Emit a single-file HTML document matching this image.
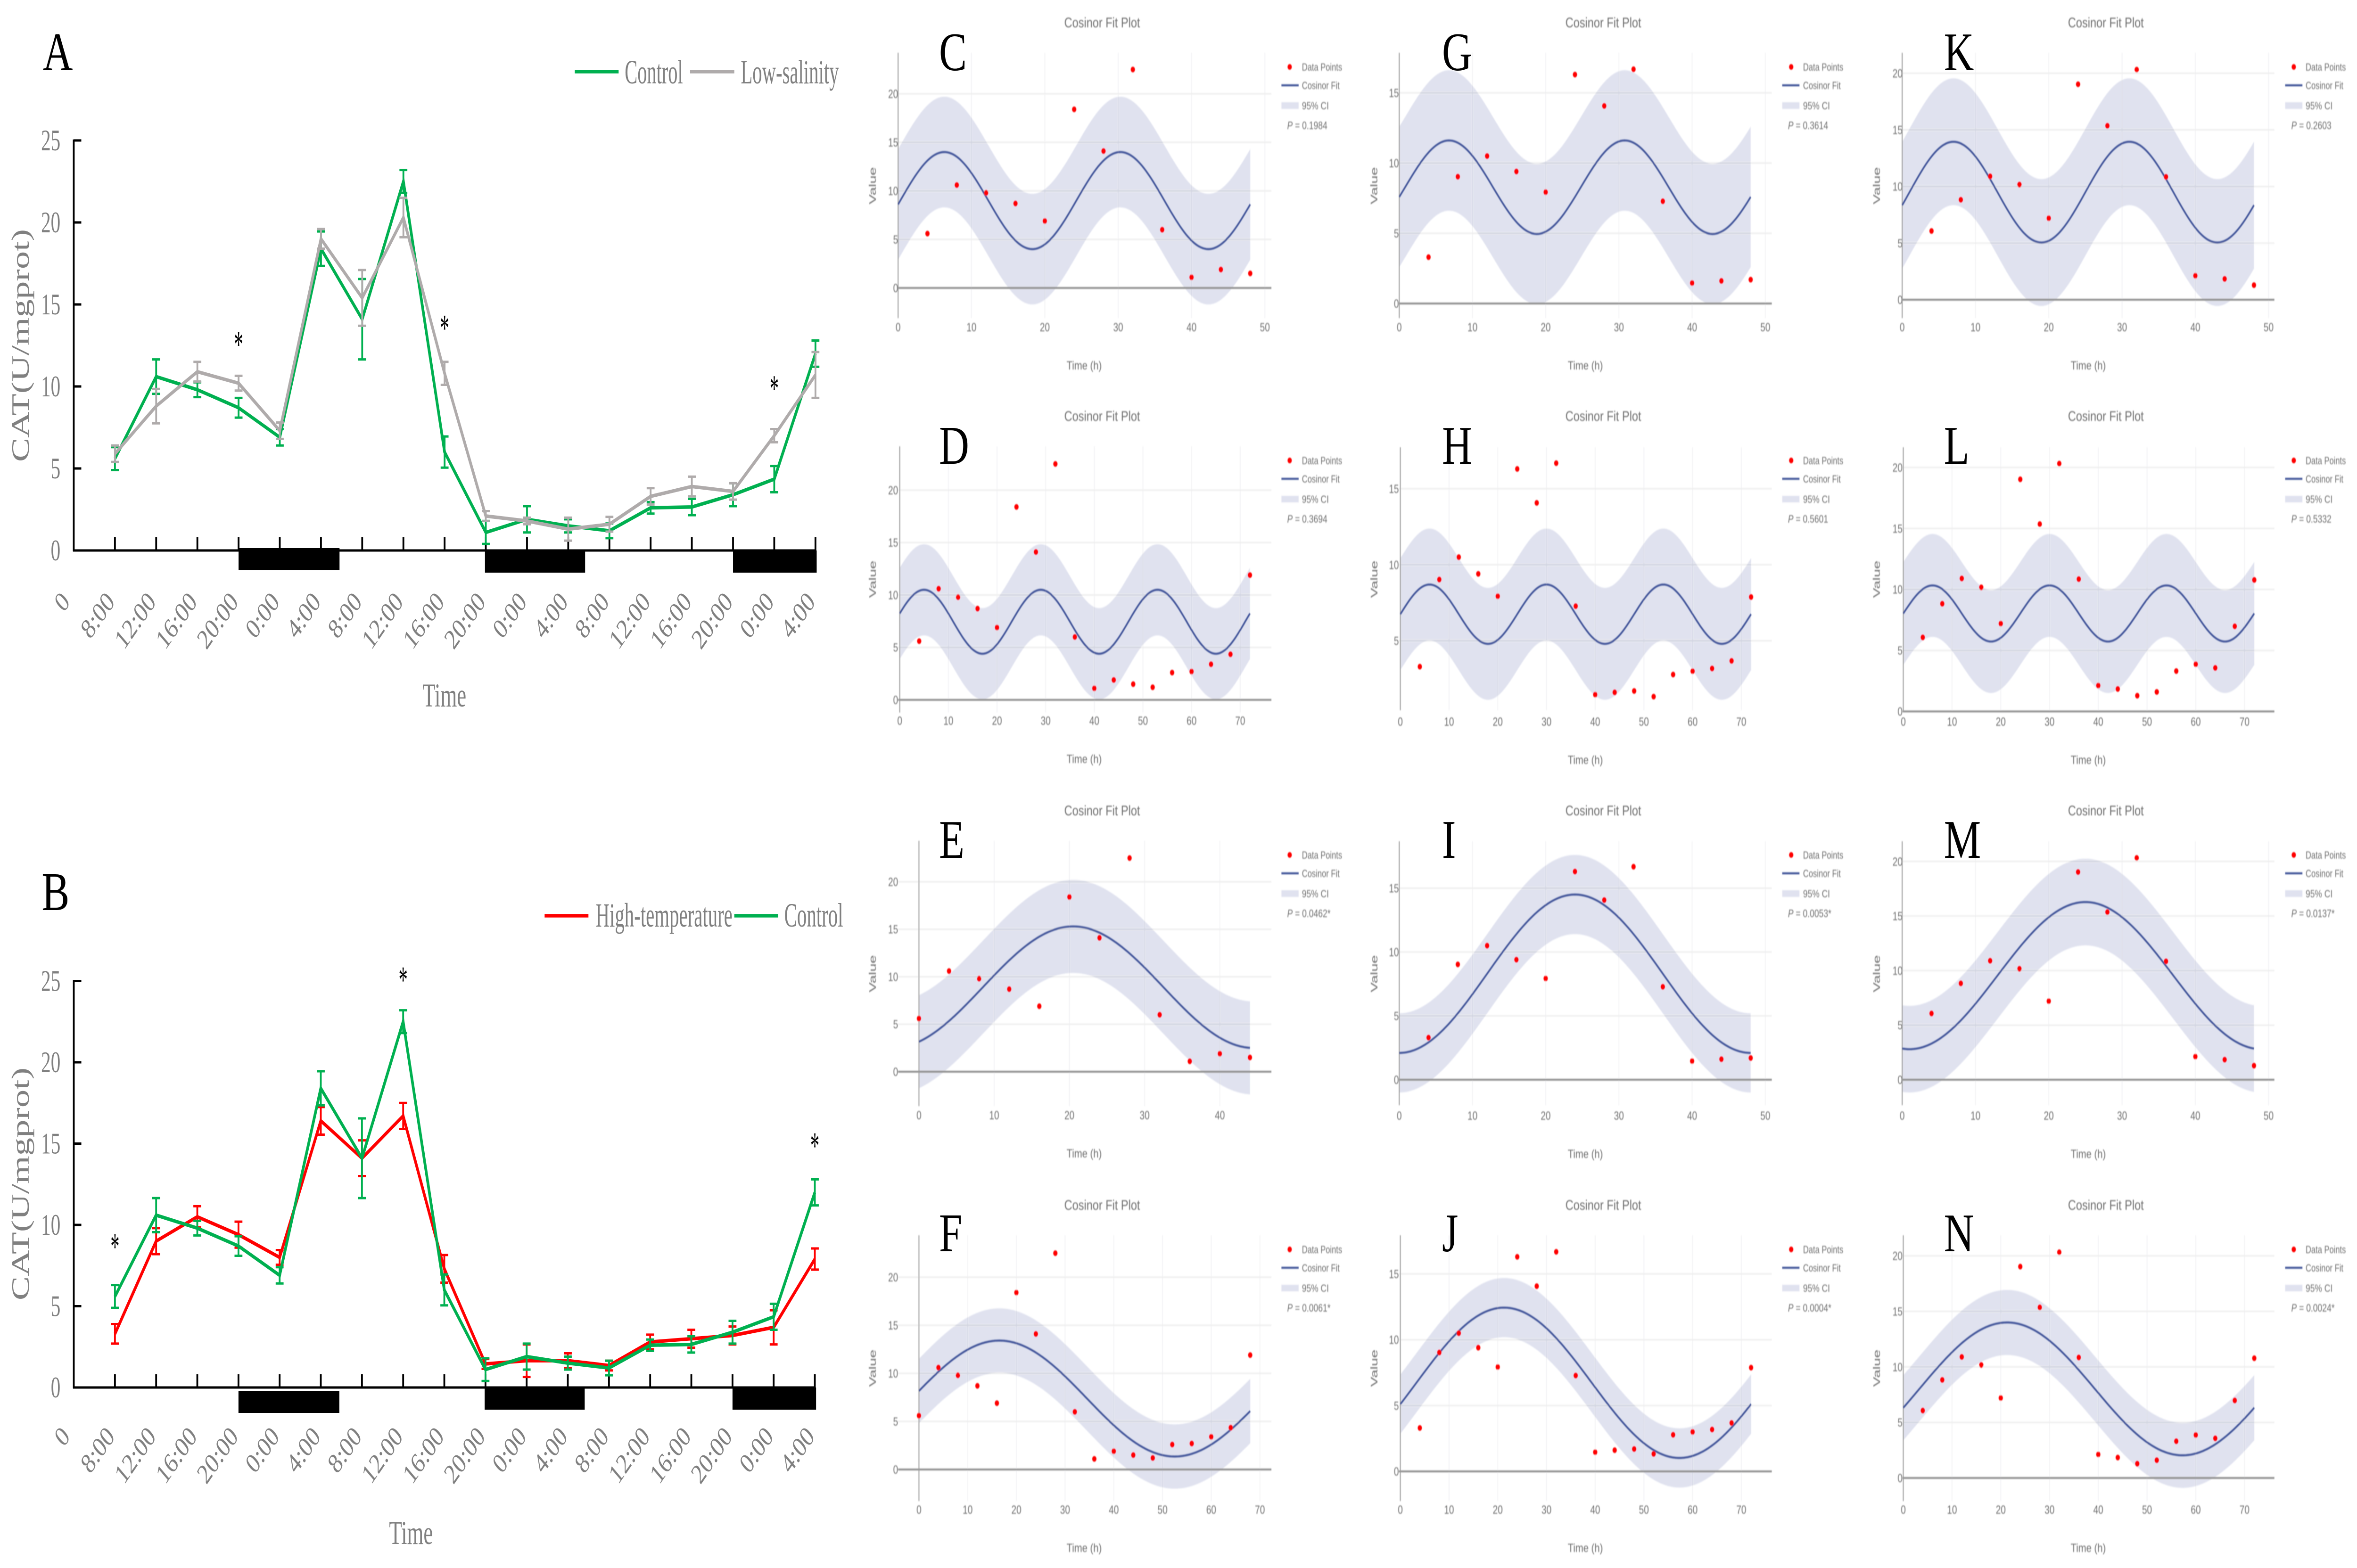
<!DOCTYPE html>
<html lang="en">
<head>
<meta charset="utf-8">
<title>CAT activity time series and cosinor fit plots</title>
<style>
html,body{margin:0;padding:0;background:#fff;width:100%;height:100%;overflow:hidden;}
svg{display:block;position:fixed;left:0;top:0;width:100vw;height:100vh;}
</style>
</head>
<body>
<svg id="figure" xmlns="http://www.w3.org/2000/svg" viewBox="0 0 6561 3327" preserveAspectRatio="none">
<defs>
<filter id="soft" x="-3%" y="-3%" width="106%" height="106%"><feGaussianBlur stdDeviation="1.2"/></filter>
</defs>
<rect x="0" y="0" width="6561" height="3327" fill="#ffffff"/>
<g id="lineA"></g>
<g id="lineB"></g>
<g id="cosinors"></g>
</svg>
<script>
// ---------- line chart data (panels A and B) ----------
const timeLabels = ["8:00","12:00","16:00","20:00","0:00","4:00","8:00","12:00","16:00","20:00","0:00","4:00","8:00","12:00","16:00","20:00","0:00","4:00"];
const catTicks = [0,5,10,15,20,25];
const controlValues = [5.6,10.6,9.8,8.7,6.9,18.4,14.1,22.5,6.0,1.1,1.9,1.5,1.2,2.6,2.65,3.4,4.35,12.0];
const controlErrors = [0.7,1.05,0.45,0.6,0.5,1.05,2.45,0.7,0.95,0.7,0.8,0.4,0.45,0.35,0.5,0.7,0.8,0.8];
const lowSalinityValues = [5.9,8.8,10.9,10.2,7.3,19.0,15.4,20.3,10.8,2.1,1.8,1.3,1.6,3.3,3.9,3.6,7.0,10.7];
const lowSalinityErrors = [0.5,1.05,0.6,0.45,0.5,0.6,1.7,1.2,0.7,0.3,0.2,0.7,0.45,0.5,0.6,0.5,0.4,1.4];
const highTempValues = [3.3,9.0,10.5,9.4,8.0,16.4,14.1,16.7,7.3,1.45,1.65,1.65,1.35,2.8,3.0,3.2,3.7,7.9];
const highTempErrors = [0.6,0.8,0.65,0.8,0.45,0.85,1.1,0.8,0.85,0.3,1.0,0.45,0.3,0.45,0.55,0.55,1.05,0.65];
const starIndexA = [3,8,16];
const starValueA = [12.9,13.9,10.2];
const starIndexB = [0,7,17];
const starValueB = [9.0,25.4,15.2];
const nightStart = [3,8.98,15];
const nightEnd = [5.45,11.41,17.03];

// ---------- cosinor data (panels C to N) ----------
const cosinorControl = [5.6,10.6,9.8,8.7,6.9,18.4,14.1,22.5,6.0,1.1,1.9,1.5,1.2,2.6,2.7,3.4,4.35,11.9];
const cosinorHeat = [3.3,9.03,10.5,9.4,7.93,16.3,14.07,16.68,7.28,1.46,1.61,1.7,1.33,2.78,3.0,3.18,3.68,7.88];
const cosinorSalinity = [6.07,8.83,10.9,10.17,7.2,19.03,15.36,20.32,10.85,2.12,1.84,1.29,1.6,3.31,3.87,3.57,6.98,10.78];
const panelLetters = ["C","D","E","F","G","H","I","J","K","L","M","N"];
const panelFirstHour = [4,4,0,0,4,4,4,4,4,4,4,4];
const panelPointCount = [12,18,12,18,12,18,12,18,12,18,12,18];
const fitMesor = [9,7.45,8.9,7.38,8.28,6.75,8.3,6.73,9.5,8.03,9.54,8.02];
const fitAmplitude = [5,3.05,6.4,6.03,3.33,1.95,6.2,5.71,4.45,2.3,6.74,5.98];
const fitPeriod = [24,24,48,72,24,24,48,72,24,24,48,72];
const fitPeakHour = [6.3,5,20.5,16.5,6.8,6,24,21.3,7,6,25,21.3];
const ciHalfWidth = [5.7,4.35,4.9,3.35,5,3.68,3.1,2.25,5.6,4.22,3.97,2.93];
const fitEndHour = [48,72,44,68,48,72,48,72,48,72,48,72];
const pLabels = ["0.1984","0.3694","0.0462*","0.0061*","0.3614","0.5601","0.0053*","0.0004*","0.2603","0.5332","0.0137*","0.0024*"];
const xTickTop = [50,70,40,70,50,70,50,70,50,70,50,70];
const yTickTop = [20,20,20,20,15,15,15,15,20,20,20,20];
const yTickBottom = [0,0,0,0,0,5,0,0,0,0,0,0];

// ---------- layout (pixels, not data) ----------
const panelAxisLayout = [
  {x0:2500,xu:20.42,y0:611,yu:20.6,top:112,bottom:675},
  {x0:2504.5,xu:13.54,y0:1485,yu:22.25,top:947,bottom:1512},
  {x0:2558,xu:20.94,y0:2274,yu:20.15,top:1784,bottom:2347},
  {x0:2558,xu:13.56,y0:3118,yu:20.4,top:2621,bottom:3185},
  {x0:3895,xu:20.38,y0:644,yu:29.8,top:112,bottom:675},
  {x0:3898,xu:13.56,y0:1521,yu:32.27,top:949,bottom:1507},
  {x0:3895,xu:20.38,y0:2291,yu:27.1,top:1785,bottom:2345},
  {x0:3898,xu:13.56,y0:3122,yu:27.93,top:2621,bottom:3185},
  {x0:5295,xu:20.4,y0:636,yu:24.03,top:112,bottom:675},
  {x0:5298,xu:13.57,y0:1509.5,yu:25.88,top:949,bottom:1510},
  {x0:5295,xu:20.4,y0:2291,yu:23.16,top:1785,bottom:2345},
  {x0:5298,xu:13.57,y0:3136,yu:23.57,top:2621,bottom:3185}
];
const columnLayout = [
  {left:2500,right:3539,title:3068,time:3018,value:2429,dot:3590,line:3567,text:3624,p:3583,letter:2614},
  {left:3894,right:4932,title:4463,time:4413,value:3825,dot:4986,line:4961,text:5019,p:4977,letter:4014},
  {left:5296,right:6331,title:5862,time:5813,value:5224,dot:6385,line:6361,text:6418,p:6378,letter:5411}
];
const rowTop = [112,947,1784,2621];
const letterBase = [149,984,1820,2655];

const NS = "http://www.w3.org/2000/svg";
const SERIF = '"Liberation Serif", serif';
const SANS = '"Liberation Sans", sans-serif';

function shape(parent, tag, attrs, label) {
  const el = document.createElementNS(NS, tag);
  for (const k in attrs) el.setAttribute(k, attrs[k]);
  
  
  parent.appendChild(el);
  return el;
}
function label(parent, str, attrs, name) {
  const el = shape(parent, 'text', attrs, name);
  el.textContent = str;
  return el;
}

function drawLinePanel(root, cfg) {
  const xs = i => cfg.xFirst + i * cfg.xStep;
  const ys = v => cfg.y0 - v * cfg.yu;
  const axisX = xs(-1) ;
  const maxV = catTicks[catTicks.length - 1];

  // night bars
  nightStart.forEach((s, i) => {
    const top = cfg.nightTop[i];
    shape(root, 'rect', {x: xs(s), y: top, width: xs(nightEnd[i]) - xs(s), height: cfg.nightH, fill: '#000'}, 'dark-period-bar-' + (i + 1));
  });

  // axes
  shape(root, 'line', {x1: axisX, y1: ys(0) + 2, x2: axisX, y2: ys(maxV) - 2, stroke: '#000', 'stroke-width': 5}, 'y-axis-line');
  shape(root, 'line', {x1: axisX - 2, y1: ys(0), x2: xs(timeLabels.length - 1) + 2, y2: ys(0), stroke: '#000', 'stroke-width': 5}, 'x-axis-line');
  catTicks.forEach(t => {
    shape(root, 'line', {x1: axisX, y1: ys(t), x2: axisX + 21, y2: ys(t), stroke: '#000', 'stroke-width': 5}, 'y-tick-' + t);
    label(root, String(t), {x: axisX - 37, y: ys(t) + 21, 'font-family': SERIF, 'font-size': 64, fill: '#808080', 'text-anchor': 'end', textLength: t < 10 ? 27 : 54, lengthAdjust: 'spacingAndGlyphs'}, 'y-tick-label-' + t);
  });
  timeLabels.forEach((t, i) => {
    shape(root, 'line', {x1: xs(i), y1: ys(0), x2: xs(i), y2: ys(0) - 28, stroke: '#000', 'stroke-width': 5}, 'x-tick-' + i);
    const px = xs(i) + 2, py = cfg.tickBase;
    label(root, t, {x: px, y: py, 'font-family': SERIF, 'font-size': 60, fill: '#808080', 'text-anchor': 'end', transform: 'rotate(-48 ' + px + ' ' + py + ')'}, 'x-tick-label-' + i);
  });
  const zx = axisX - 8, zy = cfg.tickBase;
  label(root, '0', {x: zx, y: zy, 'font-family': SERIF, 'font-size': 60, fill: '#808080', 'text-anchor': 'end', transform: 'rotate(-48 ' + zx + ' ' + zy + ')'}, 'x-tick-label-origin');

  // series
  cfg.series.forEach(s => {
    const g = shape(root, 'g', {}, s.name + '-series');
    s.values.forEach((v, i) => {
      const e = s.errors[i], x = xs(i);
      shape(g, 'line', {x1: x, y1: ys(v - e), x2: x, y2: ys(v + e), stroke: s.color, 'stroke-width': 5}, s.name + '-error-bar-' + i);
      shape(g, 'line', {x1: x - 11, y1: ys(v + e), x2: x + 11, y2: ys(v + e), stroke: s.color, 'stroke-width': 5}, s.name + '-error-cap-upper-' + i);
      shape(g, 'line', {x1: x - 11, y1: ys(v - e), x2: x + 11, y2: ys(v - e), stroke: s.color, 'stroke-width': 5}, s.name + '-error-cap-lower-' + i);
    });
    shape(g, 'polyline', {points: s.values.map((v, i) => xs(i) + ',' + ys(v)).join(' '), fill: 'none', stroke: s.color, 'stroke-width': 7.5, 'stroke-linejoin': 'miter'}, s.name + '-line');
  });

  // significance markers
  cfg.starIndex.forEach((idx, i) => {
    label(root, '*', {x: xs(idx), y: ys(cfg.starValue[i]) + 38, 'font-family': SERIF, 'font-size': 80, fill: '#000', 'text-anchor': 'middle', textLength: 25, lengthAdjust: 'spacingAndGlyphs'}, 'significance-marker-' + (i + 1));
  });

  // titles
  label(root, 'CAT(U/mgprot)', {x: 80, y: cfg.yTitleCy, 'font-family': SERIF, 'font-size': 70, fill: '#808080', 'text-anchor': 'middle', textLength: 494, lengthAdjust: 'spacingAndGlyphs', transform: 'rotate(-90 80 ' + cfg.yTitleCy + ')'}, 'y-axis-title');
  label(root, 'Time', {x: cfg.timeX, y: cfg.timeBase, 'font-family': SERIF, 'font-size': 71, fill: '#808080', 'text-anchor': 'middle', textLength: 122, lengthAdjust: 'spacingAndGlyphs'}, 'x-axis-title');
  label(root, cfg.letter, {x: cfg.letterX, y: cfg.letterBase, 'font-family': SERIF, 'font-size': 116, fill: '#000'}, 'panel-letter-' + cfg.letter.toLowerCase());

  // legend
  cfg.legend.forEach(l => {
    const g = shape(root, 'g', {}, 'legend-entry-' + l.name);
    shape(g, 'line', {x1: l.x1, y1: cfg.legendY, x2: l.x2, y2: cfg.legendY, stroke: l.color, 'stroke-width': 7.5}, 'legend-swatch-' + l.name);
    label(g, l.text, {x: l.tx, y: cfg.legendBase, 'font-family': SERIF, 'font-size': 72, fill: '#808080', textLength: l.tw, lengthAdjust: 'spacingAndGlyphs'}, 'legend-label-' + l.name);
  });
}

drawLinePanel(document.getElementById('lineA'), {
  letter: 'A', letterX: 119, letterBase: 149,
  xFirst: 320, xStep: 114.7, y0: 1168, yu: 34.8,
  nightTop: [1163,1168,1168], nightH: 47, tickBase: 1279,
  yTitleCy: 733, timeX: 1237, timeBase: 1499,
  legendY: 152, legendBase: 177,
  starIndex: starIndexA, starValue: starValueA,
  series: [
    {name: 'control', values: controlValues, errors: controlErrors, color: '#00b050'},
    {name: 'low-salinity', values: lowSalinityValues, errors: lowSalinityErrors, color: '#afabab'}
  ],
  legend: [
    {name: 'control', text: 'Control', color: '#00b050', x1: 1600, x2: 1722, tx: 1739, tw: 162},
    {name: 'low-salinity', text: 'Low-salinity', color: '#afabab', x1: 1921, x2: 2044, tx: 2062, tw: 273}
  ]
});
drawLinePanel(document.getElementById('lineB'), {
  letter: 'B', letterX: 116, letterBase: 1931,
  xFirst: 320, xStep: 114.6, y0: 2944, yu: 34.5,
  nightTop: [2951,2944,2944], nightH: 47, tickBase: 3050,
  yTitleCy: 2512, timeX: 1144, timeBase: 3276,
  legendY: 1943, legendBase: 1966,
  starIndex: starIndexB, starValue: starValueB,
  series: [
    {name: 'high-temperature', values: highTempValues, errors: highTempErrors, color: '#ff0000'},
    {name: 'control', values: controlValues, errors: controlErrors, color: '#00b050'}
  ],
  legend: [
    {name: 'high-temperature', text: 'High-temperature', color: '#ff0000', x1: 1516, x2: 1638, tx: 1658, tw: 381},
    {name: 'control', text: 'Control', color: '#00b050', x1: 2044, x2: 2166, tx: 2183, tw: 164}
  ]
});

function fitValue(p, t) {
  return fitMesor[p] + fitAmplitude[p] * Math.cos(2 * Math.PI * (t - fitPeakHour[p]) / fitPeriod[p]);
}

function drawCosinor(root, p) {
  const letter = panelLetters[p];
  const id = letter.toLowerCase();
  const col = Math.floor(p / 4), row = p % 4;
  const c = columnLayout[col], a = panelAxisLayout[p], rt = rowTop[row];
  const xs = t => a.x0 + t * a.xu;
  const ys = v => a.y0 - v * a.yu;
  const series = [cosinorControl, cosinorHeat, cosinorSalinity][col];
  const hoursStep = 4;
  const panel = shape(root, 'g', {}, 'panel-' + id);
  const g = shape(panel, 'g', {filter: 'url(#soft)'}, 'cosinor-plot-' + id);

  label(g, 'Cosinor Fit Plot', {x: c.title, y: rt - 54, 'font-family': SANS, 'font-size': 30, fill: '#6f6f6f', 'text-anchor': 'middle', textLength: 211, lengthAdjust: 'spacingAndGlyphs'}, 'chart-title');

  // grid
  for (let t = 0; t <= xTickTop[p]; t += 10) {
    if (t > 0) shape(g, 'line', {x1: xs(t), y1: a.top, x2: xs(t), y2: a.bottom, stroke: '#f0f0f3', 'stroke-width': 2}, 'x-grid-line-' + t);
    label(g, String(t), {x: xs(t), y: a.top + 591, 'font-family': SANS, 'font-size': 25, fill: '#6f6f6f', 'text-anchor': 'middle'}, 'x-tick-label-' + t);
  }
  for (let v = yTickBottom[p]; v <= yTickTop[p]; v += 5) {
    if (v > 0) shape(g, 'line', {x1: c.left, y1: ys(v), x2: c.right, y2: ys(v), stroke: '#eeeeee', 'stroke-width': 3}, 'y-grid-line-' + v);
    label(g, String(v), {x: c.left, y: ys(v) + 9, 'font-family': SANS, 'font-size': 25, fill: '#6f6f6f', 'text-anchor': 'end'}, 'y-tick-label-' + v);
  }

  // confidence band
  const end = fitEndHour[p];
  const upper = [], lower = [], mid = [];
  for (let t = 0; t <= end + 0.001; t += 0.25) {
    const f = fitValue(p, t);
    mid.push(xs(t).toFixed(1) + ',' + ys(f).toFixed(1));
    upper.push(xs(t).toFixed(1) + ',' + ys(f + ciHalfWidth[p]).toFixed(1));
    lower.unshift(xs(t).toFixed(1) + ',' + ys(f - ciHalfWidth[p]).toFixed(1));
  }
  shape(g, 'polygon', {points: upper.concat(lower).join(' '), fill: '#3f5399', 'fill-opacity': 0.16}, 'confidence-band');

  // axes
  if (yTickBottom[p] === 0) {
    shape(g, 'line', {x1: c.left, y1: ys(0), x2: c.right, y2: ys(0), stroke: '#8f8f8f', 'stroke-width': 4}, 'zero-line');
  }
  shape(g, 'line', {x1: a.x0, y1: a.top, x2: a.x0, y2: a.bottom, stroke: '#9a9a9a', 'stroke-width': 2.5}, 'y-axis-line');

  // fit
  shape(g, 'polyline', {points: mid.join(' '), fill: 'none', stroke: '#3f5399', 'stroke-width': 4.2}, 'cosinor-fit-line');

  // points
  for (let i = 0; i < panelPointCount[p]; i++) {
    const t = panelFirstHour[p] + i * hoursStep;
    shape(g, 'circle', {cx: xs(t), cy: ys(series[i]), r: 6, fill: '#ff0000'}, 'data-point-' + t + 'h');
  }

  // axis titles
  label(g, 'Time (h)', {x: c.time, y: a.top + 672, 'font-family': SANS, 'font-size': 25, fill: '#6f6f6f', 'text-anchor': 'middle', textLength: 98, lengthAdjust: 'spacingAndGlyphs'}, 'x-axis-title');
  const vy = rt + 282;
  label(g, 'Value', {x: c.value + 9, y: vy, 'font-family': SANS, 'font-size': 27, fill: '#6f6f6f', 'text-anchor': 'middle', textLength: 79, lengthAdjust: 'spacingAndGlyphs', transform: 'rotate(-90 ' + (c.value + 9) + ' ' + vy + ')'}, 'y-axis-title');

  // legend
  shape(g, 'circle', {cx: c.dot, cy: rt + 30, r: 6, fill: '#ff0000'}, 'legend-swatch-data-points');
  label(g, 'Data Points', {x: c.text, y: rt + 38, 'font-family': SANS, 'font-size': 22, fill: '#6f6f6f', textLength: 112, lengthAdjust: 'spacingAndGlyphs'}, 'legend-label-data-points');
  shape(g, 'line', {x1: c.line, y1: rt + 69, x2: c.line + 48, y2: rt + 69, stroke: '#3f5399', 'stroke-width': 4.2}, 'legend-swatch-cosinor-fit');
  label(g, 'Cosinor Fit', {x: c.text, y: rt + 77, 'font-family': SANS, 'font-size': 22, fill: '#6f6f6f', textLength: 105, lengthAdjust: 'spacingAndGlyphs'}, 'legend-label-cosinor-fit');
  shape(g, 'rect', {x: c.line, y: rt + 105, width: 48, height: 14, fill: '#3f5399', 'fill-opacity': 0.16}, 'legend-swatch-ci');
  label(g, '95% CI', {x: c.text, y: rt + 120, 'font-family': SANS, 'font-size': 22, fill: '#6f6f6f', textLength: 75, lengthAdjust: 'spacingAndGlyphs'}, 'legend-label-ci');
  const pText = label(g, '', {x: c.p, y: rt + 162, 'font-family': SANS, 'font-size': 23, fill: '#6f6f6f'}, 'p-value-label');
  const pItalic = shape(pText, 'tspan', {'font-style': 'italic'}, 'p-value-symbol');
  pItalic.textContent = 'P';
  pText.appendChild(document.createTextNode(' = ' + pLabels[p]));

  // panel letter stays sharp
  label(panel, letter, {x: c.letter, y: letterBase[row], 'font-family': SERIF, 'font-size': 116, fill: '#000'}, 'panel-letter-' + id);
}

const cosRoot = document.getElementById('cosinors');
panelLetters.forEach((_, p) => drawCosinor(cosRoot, p));
</script>
</body>
</html>
